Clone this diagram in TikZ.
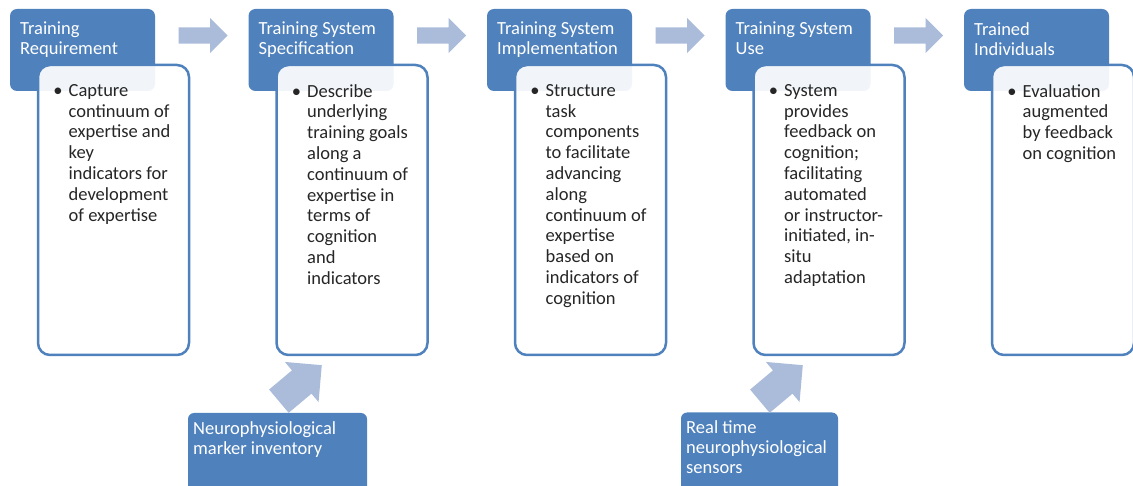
\documentclass[tikz,border=0pt]{standalone}
\usepackage{fontspec}
\setmainfont{Carlito}
\usetikzlibrary{shapes.arrows}
\definecolor{hdrblue}{RGB}{79,129,189}
\definecolor{arrowblue}{RGB}{170,188,218}
\definecolor{bodytext}{RGB}{38,38,38}
\newcommand{\bul}{\llap{\textbullet\hspace{6pt}}}

\begin{document}
\begin{tikzpicture}[x=1pt,y=1pt,
	hdr/.style={rectangle,rounded corners=7pt,fill=hdrblue,minimum width=145pt,minimum height=82pt,inner sep=0pt},
	hdrtext/.style={anchor=north west,inner sep=0pt,align=left,text=white,font=\fontsize{18.5}{20}\selectfont},
	card/.style={rectangle,rounded corners=12pt,draw=hdrblue,line width=2.5pt,fill=white,fill opacity=0.92,minimum width=151pt,minimum height=290pt,inner sep=0pt},
	cardtext/.style={anchor=north west,inner sep=0pt,align=left,text=bodytext,font=\fontsize{18.5}{20.8}\selectfont},
	flow/.style={single arrow,fill=arrowblue,inner xsep=0pt,inner ysep=8pt,single arrow head extend=9.5pt,minimum height=49pt,anchor=tip},
	feed/.style={single arrow,fill=arrowblue,inner xsep=0pt,inner ysep=15pt,single arrow head extend=11pt,minimum height=56pt,rotate=40,anchor=tip},
	src/.style={rectangle,rounded corners=6pt,fill=hdrblue,inner sep=0pt}
	]
	\useasboundingbox (0,0) rectangle (1133,485);
	\def\dist{238.5}

	% headers
	\node[hdr] (h1) at (82.5,435) {};
	\node[hdr] (h2) at (82.5+\dist,435) {};
	\node[hdr] (h3) at (82.5+2*\dist,435) {};
	\node[hdr] (h4) at (82.5+3*\dist,435) {};
	\node[hdr] (h5) at (82.5+4*\dist,435) {};
	\node[hdrtext] (h1t) at (20,463) {Training\\Requirement};
	\node[hdrtext] (h2t) at (20+\dist,463) {Training System\\Specification};
	\node[hdrtext] (h3t) at (20+2*\dist,463) {Training System\\Implementation};
	\node[hdrtext] (h4t) at (20+3*\dist,463) {Training System\\Use};
	\node[hdrtext] (h5t) at (20+4*\dist,463) {Trained\\Individuals};

	% cards
	\node[card] (c1) at (113.5,275) {};
	\node[card] (c2) at (113.5+\dist,275) {};
	\node[card] (c3) at (113.5+2*\dist,275) {};
	\node[card] (c4) at (113.5+3*\dist,275) {};
	\node[card,minimum width=142pt] (c5) at (109+4*\dist,275) {};
	\node[cardtext] (c1t) at (68.5,401) {\bul Capture\\continuum of\\expertise and\\key\\indicators for\\development\\of expertise};
	\node[cardtext] (c2t) at (68.5+\dist,401) {\bul Describe\\underlying\\training goals\\along a\\continuum of\\expertise in\\terms of\\cognition\\and\\indicators};
	\node[cardtext] (c3t) at (68.5+2*\dist,401) {\bul Structure\\task\\components\\to facilitate\\advancing\\along\\continuum of\\expertise\\based on\\indicators of\\cognition};
	\node[cardtext] (c4t) at (68.5+3*\dist,401) {\bul System\\provides\\feedback on\\cognition;\\facilitating\\automated\\or instructor-\\initiated, in-\\situ\\adaptation};
	\node[cardtext] (c5t) at (68.5+4*\dist,401) {\bul Evaluation\\augmented\\by feedback\\on cognition};

	% arrows between steps
	\node[flow] (a12) at (228,449.5) {};
	\node[flow] (a23) at (228+\dist,449.5) {};
	\node[flow] (a34) at (228+2*\dist,449.5) {};
	\node[flow] (a45) at (228+3*\dist,449.5) {};

	% inputs from below
	\node[src,minimum width=179pt,minimum height=82pt] (mrk) at (277.5,31) {};
	\node[hdrtext] (mrkt) at (193,64) {Neurophysiological\\marker inventory};
	\node[src,minimum width=157pt,minimum height=82pt] (sns) at (759.5,31.5) {};
	\node[hdrtext] (snst) at (686,65) {Real time\\neurophysiological\\sensors};
	\node[feed] (fm) at (322,120) {};
	\node[feed] (fs) at (803,120) {};
\end{tikzpicture}
\end{document}
